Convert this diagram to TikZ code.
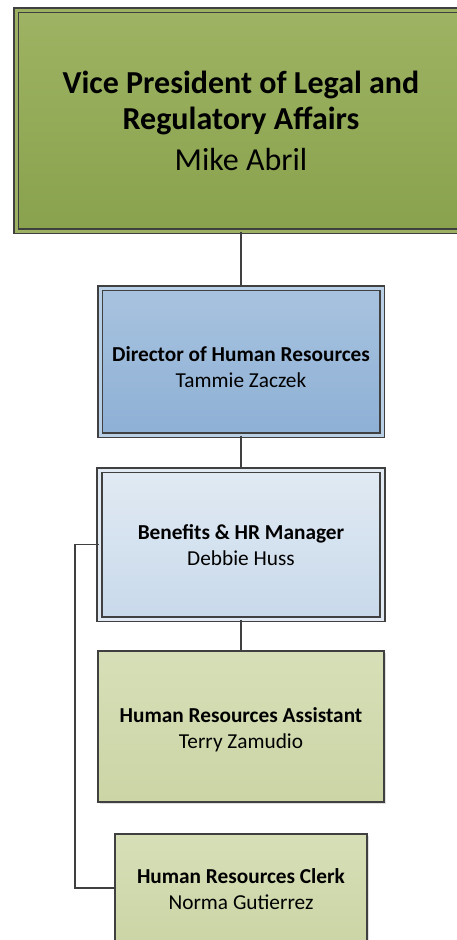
\documentclass[tikz,border=0pt]{standalone}
\usepackage{fontspec}
\setmainfont{Carlito}
\usetikzlibrary{shadows}

\definecolor{linegray}{HTML}{404040}
\definecolor{vptop}{HTML}{9EB363}
\definecolor{vpbot}{HTML}{89A24D}
\definecolor{dirtop}{HTML}{A8C3DF}
\definecolor{dirbot}{HTML}{8EB0D5}
\definecolor{mgrtop}{HTML}{E1EAF3}
\definecolor{mgrbot}{HTML}{C8D9EB}
\definecolor{stafftop}{HTML}{D7DFB8}
\definecolor{staffbot}{HTML}{CBD5A5}

\tikzstyle{box} = [rectangle,draw=linegray,line width=1.6pt,inner sep=0pt,
  drop shadow={shadow xshift=2pt,shadow yshift=-2pt,opacity=0.25}]
\tikzstyle{vpbox} = [box,top color=vptop,bottom color=vpbot,double=vptop!90!vpbot,double distance=3pt]
\tikzstyle{dirbox} = [box,top color=dirtop,bottom color=dirbot,double=dirtop!80!white,double distance=3pt]
\tikzstyle{mgrbox} = [box,top color=mgrtop,bottom color=mgrbot,double=mgrtop,double distance=3pt]
\tikzstyle{staffbox} = [box,top color=stafftop,bottom color=staffbot]
\tikzstyle{bigtext} = [align=center,font=\fontsize{32}{36}\selectfont]
\tikzstyle{smalltext} = [align=center,font=\fontsize{21.3}{26}\selectfont]
\tikzstyle{conn} = [draw=linegray,line width=1.6pt]

\begin{document}
\begin{tikzpicture}[x=1pt,y=-1pt]
    \useasboundingbox (0,0) rectangle (457,940);
    %% boxes and their texts
    \foreach \name/\x/\y/\w/\h/\boxstyle/\ty/\textstyle/\content in {
      vp/241/120.5/450/221/vpbox/121/bigtext/{\textbf{Vice President of Legal and}\\\textbf{Regulatory Affairs}\\[5pt]Mike Abril},
      dir/241/361.5/282/147/dirbox/367/smalltext/{\textbf{Director of Human Resources}\\Tammie Zaczek},
      mgr/241/544.5/283/149/mgrbox/545/smalltext/{\textbf{Benefits \& HR Manager}\\Debbie Huss},
      asst/241/726.5/286.5/151.5/staffbox/729.5/smalltext/{\textbf{Human Resources Assistant}\\Terry Zamudio},
      clerk/241/888/252.5/108.5/staffbox/889/smalltext/{\textbf{Human Resources Clerk}\\Norma Gutierrez}}
    {
      \node[\boxstyle, minimum width=\w pt, minimum height=\h pt] (\name) at (\x,\y) {};
      \node[\textstyle] (\name text) at (\x,\ty) {\content};
    }
    %% reporting lines
    \path[conn] (vp.south) -- (dir.north);
    \path[conn] (dir.south) -- (mgr.north);
    \path[conn] (mgr.south) -- (asst.north);
    \path[conn] (mgr.west) -- ++(-24,0) |- (clerk.west);
\end{tikzpicture}
\end{document}
